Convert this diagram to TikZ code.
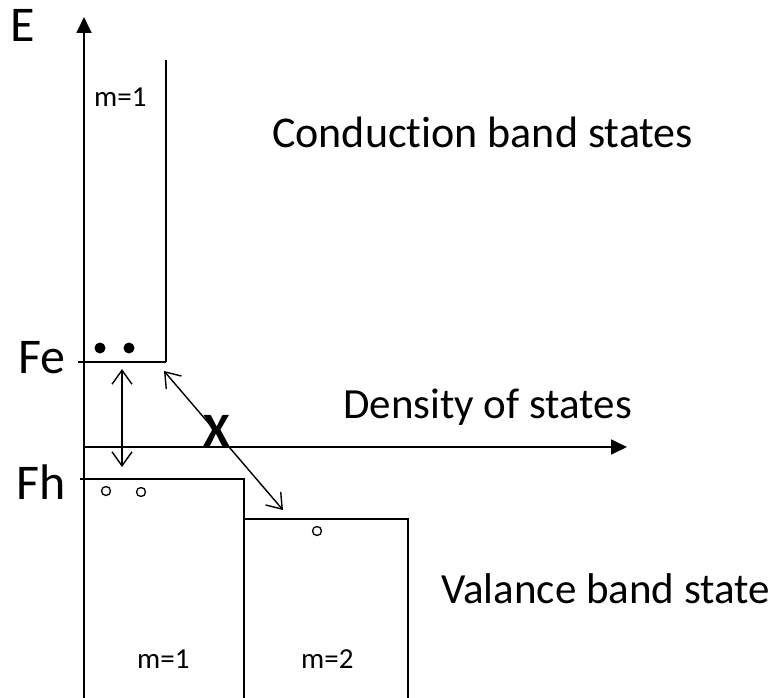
\documentclass[tikz,border=0pt]{standalone}
\usepackage{fontspec}
\setmainfont[Ligatures=NoCommon]{Carlito}
\usetikzlibrary{arrows.meta}
\tikzset{>={Triangle[length=16pt,width=15pt]},
  band/.style={line width=1.6pt},
  axis/.style={line width=1.8pt,->},
  bigtext/.style={font=\fontsize{43}{46}\selectfont,inner sep=0pt,anchor=base west},
  levtext/.style={font=\fontsize{50}{54}\selectfont,inner sep=0pt,anchor=base west},
  mtext/.style={font=\fontsize{29}{32}\selectfont,inner sep=0pt,anchor=base west},
  jump/.style={line width=1.4pt,{Straight Barb[length=14pt,width=20pt]}-{Straight Barb[length=14pt,width=20pt]}},
  electron/.style={circle,fill=black,inner sep=0pt,minimum size=11pt},
  hole/.style={circle,draw,line width=1.3pt,inner sep=0pt,minimum size=9pt}}

\begin{document}
\begin{tikzpicture}[x=1pt,y=-1pt]
\useasboundingbox (0,0) rectangle (779,698);

% ============ axes ============
\draw[axis] (84,698) -- (84,17);
\draw[axis] (84,447) -- (627,447);
\node[levtext] (elabel) at (10,42) {E};
\node[bigtext] (dos) at (343,418) {Density of states};

% ============ conduction band (m=1) ============
\draw[band] (166,60) -- (166,362);
\draw[band] (78,362) -- (166,362);
\node[mtext] (cm1) at (94,107) {m=1};
\node[levtext] (fe) at (18,373) {Fe};
\node[electron] (e1) at (100,348) {};
\node[electron] (e2) at (129,348) {};
\node[bigtext,font=\fontsize{44}{47}\selectfont] (cbs) at (272,148) {Conduction band states};

% ============ valence bands (m=1, m=2) ============
\draw[band] (80,479) -- (244,479) -- (244,698);
\draw[band] (244,519) -- (408,519) -- (408,698);
\node[mtext] (vm1) at (137,668) {m=1};
\node[mtext] (vm2) at (301,668) {m=2};
\node[levtext] (fh) at (16,499) {Fh};
\node[hole] (h1) at (106,491) {};
\node[hole] (h2) at (141,492) {};
\node[hole] (h3) at (317,531) {};
\node[bigtext] (vbs) at (441,603) {Valance band state};

% ============ transitions ============
\coordinate (fetop) at (122,369);
\coordinate (fhbot) at (122,467);
\coordinate (cedge) at (164,371);
\coordinate (vedge) at (283,510);
\draw[jump] (fetop) -- (fhbot);
\draw[jump] (cedge) -- (vedge);
\node[font=\bfseries\fontsize{48}{50}\selectfont,inner sep=0pt] (cross) at (217,431) {X};

\end{tikzpicture}
\end{document}
